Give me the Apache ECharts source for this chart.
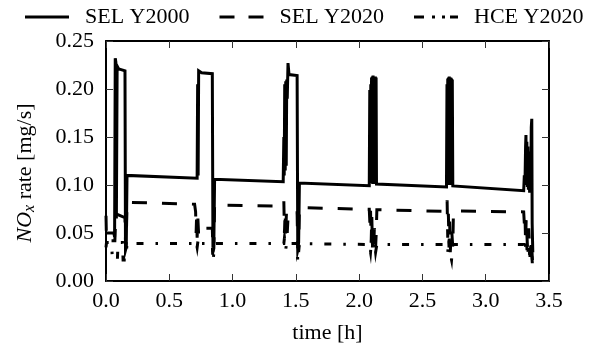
<!DOCTYPE html>
<html><head><meta charset="utf-8">
<script src="https://cdn.jsdelivr.net/npm/echarts@6/dist/echarts.min.js"></script>
<style>html,body{margin:0;padding:0;background:#fff}#c{width:596px;height:350px}</style>
</head><body><div id="c"></div>
<script>
const seriesNames = ['SEL Y2000', 'SEL Y2020', 'HCE Y2020'];
const xLabel = 'time [h]';
const xMin = 0, xMax = 3.5, xStep = 0.5;
const yMin = 0, yMax = 0.25, yStep = 0.05;

// [time h, NOx rate mg/s]
const selY2000 = [
  [0.000,0.050],[0.062,0.050],[0.068,0.046],[0.073,0.232],[0.078,0.228],[0.082,0.065],[0.088,0.224],[0.100,0.221],[0.150,0.219],[0.154,0.032],[0.160,0.035],[0.166,0.110],
  [0.720,0.107],[0.724,0.205],[0.728,0.110],[0.732,0.219],[0.740,0.218],[0.755,0.217],[0.840,0.216],[0.845,0.035],[0.852,0.040],[0.858,0.106],
  [1.400,0.1035],[1.405,0.150],[1.408,0.110],[1.412,0.205],[1.416,0.115],[1.420,0.208],[1.424,0.120],[1.428,0.210],[1.432,0.190],[1.438,0.227],[1.446,0.215],[1.510,0.214],[1.515,0.034],[1.522,0.040],[1.528,0.102],
  [2.080,0.0993],[2.084,0.199],[2.088,0.140],[2.092,0.205],[2.095,0.105],[2.098,0.212],[2.101,0.102],[2.104,0.213],[2.107,0.101],[2.110,0.214],[2.113,0.102],[2.116,0.213],[2.119,0.101],[2.122,0.213],[2.125,0.103],[2.128,0.213],[2.131,0.102],[2.134,0.212],[2.137,0.101],[2.140,0.100],
  [2.690,0.098],[2.694,0.205],[2.697,0.110],[2.700,0.211],[2.703,0.101],[2.706,0.212],[2.709,0.100],[2.712,0.213],[2.715,0.101],[2.718,0.212],[2.721,0.100],[2.724,0.212],[2.727,0.101],[2.730,0.211],[2.733,0.100],[2.736,0.210],[2.740,0.099],[2.745,0.098],
  [3.300,0.094],[3.305,0.110],[3.310,0.100],[3.315,0.140],[3.318,0.152],[3.321,0.100],[3.325,0.145],[3.329,0.098],[3.333,0.140],[3.337,0.095],[3.342,0.125],[3.347,0.092],[3.352,0.135],[3.356,0.100],[3.360,0.160],[3.364,0.169],[3.367,0.060],[3.372,0.030]
];
const selY2020 = [
  [0.000,0.068],[0.004,0.042],[0.070,0.042],[0.078,0.070],[0.085,0.068],[0.150,0.066],[0.155,0.035],[0.160,0.040],[0.166,0.082],
  [0.700,0.080],[0.708,0.072],[0.712,0.050],[0.716,0.068],[0.720,0.045],[0.726,0.065],[0.732,0.048],[0.740,0.055],[0.840,0.055],[0.845,0.030],[0.852,0.034],[0.858,0.079],
  [1.400,0.078],[1.405,0.083],[1.410,0.050],[1.415,0.072],[1.420,0.045],[1.425,0.070],[1.432,0.050],[1.440,0.071],[1.510,0.071],[1.515,0.032],[1.522,0.036],[1.528,0.0764],
  [2.080,0.0747],[2.085,0.060],[2.090,0.074],[2.095,0.040],[2.100,0.068],[2.105,0.035],[2.110,0.060],[2.115,0.032],[2.120,0.055],[2.130,0.035],[2.135,0.050],[2.140,0.0743],
  [2.690,0.0725],[2.695,0.084],[2.700,0.045],[2.705,0.070],[2.710,0.035],[2.715,0.062],[2.720,0.030],[2.730,0.055],[2.740,0.035],[2.745,0.0729],
  [3.300,0.0720],[3.305,0.060],[3.310,0.070],[3.315,0.040],[3.320,0.065],[3.330,0.035],[3.340,0.055],[3.350,0.025],[3.360,0.045],[3.370,0.020]
];
const hceY2020 = [
  [0.000,0.035],[0.004,0.040],[0.045,0.040],[0.050,0.022],[0.090,0.022],[0.095,0.040],[0.130,0.040],[0.135,0.022],[0.160,0.022],[0.165,0.039],
  [0.700,0.039],[0.710,0.042],[0.720,0.035],[0.730,0.045],[0.740,0.039],[0.840,0.039],[0.845,0.020],[0.855,0.022],[0.860,0.039],
  [1.405,0.039],[1.410,0.045],[1.420,0.033],[1.430,0.042],[1.440,0.039],[1.510,0.039],[1.515,0.020],[1.522,0.022],[1.528,0.039],
  [2.080,0.038],[2.090,0.030],[2.100,0.045],[2.110,0.032],[2.120,0.042],[2.130,0.030],[2.140,0.038],
  [2.690,0.038],[2.700,0.030],[2.710,0.044],[2.720,0.028],[2.730,0.022],[2.740,0.038],
  [3.300,0.038],[3.310,0.030],[3.320,0.045],[3.330,0.025],[3.340,0.040],[3.350,0.022],[3.360,0.035],[3.370,0.015]
];

const FONT = 'Liberation Serif';
const chart = echarts.init(document.getElementById('c'), null, {renderer: 'canvas'});
const tickStyle = {show: true, inside: true, length: 7, lineStyle: {color: '#333', width: 1}};
const lineW = 3;
// legend sample glyphs (44 x 3 px)
const legendIcons = [
  'path://M0,0H44V3H0Z',
  'path://M0,0H15V3H0Z M29,0H44V3H29Z',
  'path://M0,0H10V3H0Z M18,0H21V3H18Z M28,0H31V3H28Z M36,0H44V3H36Z'
];
function mk(name, data, type) {
  return {
    name: name, type: 'line', data: data, symbol: 'none', showSymbol: false,
    animation: false, clip: true, color: '#000',
    itemStyle: {color: '#000'},
    lineStyle: {color: '#000', width: lineW, type: type, cap: 'butt', join: 'miter'}
  };
}
chart.setOption({
  animation: false,
  backgroundColor: '#fff',
  color: ['#000', '#000', '#000'],
  grid: {left: 106, right: 47, top: 41, bottom: 69, containLabel: false},
  legend: {
    left: 25, top: 6, padding: 0, width: 580, itemWidth: 44, itemHeight: 3, itemGap: 30,
    itemStyle: {color: '#000', borderWidth: 0},
    textStyle: {fontFamily: FONT, fontSize: 22, color: '#000', padding: [0, 0, 0, 11]},
    data: seriesNames.map((n, i) => ({name: n, icon: legendIcons[i]}))
  },
  xAxis: [{
    type: 'value', min: xMin, max: xMax, interval: xStep, position: 'bottom',
    name: xLabel, nameLocation: 'middle', nameGap: 41,
    nameTextStyle: {fontFamily: FONT, fontSize: 22, color: '#000'},
    axisLine: {show: true, onZero: false, lineStyle: {color: '#000', width: 2}},
    axisTick: tickStyle,
    axisLabel: {fontFamily: FONT, fontSize: 22, color: '#000', margin: 9, formatter: v => v.toFixed(1)},
    splitLine: {show: false}
  }, {
    type: 'value', min: xMin, max: xMax, interval: xStep, position: 'top',
    axisLine: {show: true, onZero: false, lineStyle: {color: '#000', width: 2}},
    axisTick: tickStyle, axisLabel: {show: false}, splitLine: {show: false}
  }],
  yAxis: [{
    type: 'value', min: yMin, max: yMax, interval: yStep, position: 'left',
    name: '{i|NO}{sub|x}{n| rate [mg/s]}', nameLocation: 'middle', nameGap: 68, nameRotate: 90,
    nameTextStyle: {
      fontFamily: FONT, fontSize: 22, color: '#000', padding: [0, 24, 0, 0],
      rich: {
        i: {fontFamily: FONT, fontSize: 22, fontStyle: 'italic', color: '#000'},
        sub: {fontFamily: FONT, fontSize: 16, fontStyle: 'italic', color: '#000', padding: [9, 0, 0, 0]},
        n: {fontFamily: FONT, fontSize: 22, color: '#000'}
      }
    },
    axisLine: {show: true, onZero: false, lineStyle: {color: '#000', width: 2}},
    axisTick: tickStyle,
    axisLabel: {fontFamily: FONT, fontSize: 22, color: '#000', margin: 12, formatter: v => v.toFixed(2)},
    splitLine: {show: false}
  }, {
    type: 'value', min: yMin, max: yMax, interval: yStep, position: 'right',
    axisLine: {show: true, onZero: false, lineStyle: {color: '#000', width: 2}},
    axisTick: tickStyle, axisLabel: {show: false}, splitLine: {show: false}
  }],
  series: [
    mk(seriesNames[0], selY2000, 'solid'),
    mk(seriesNames[1], selY2020, [15, 15]),
    mk(seriesNames[2], hceY2020, [7, 12, 2.5, 12])
  ]
});
</script>
</body></html>
